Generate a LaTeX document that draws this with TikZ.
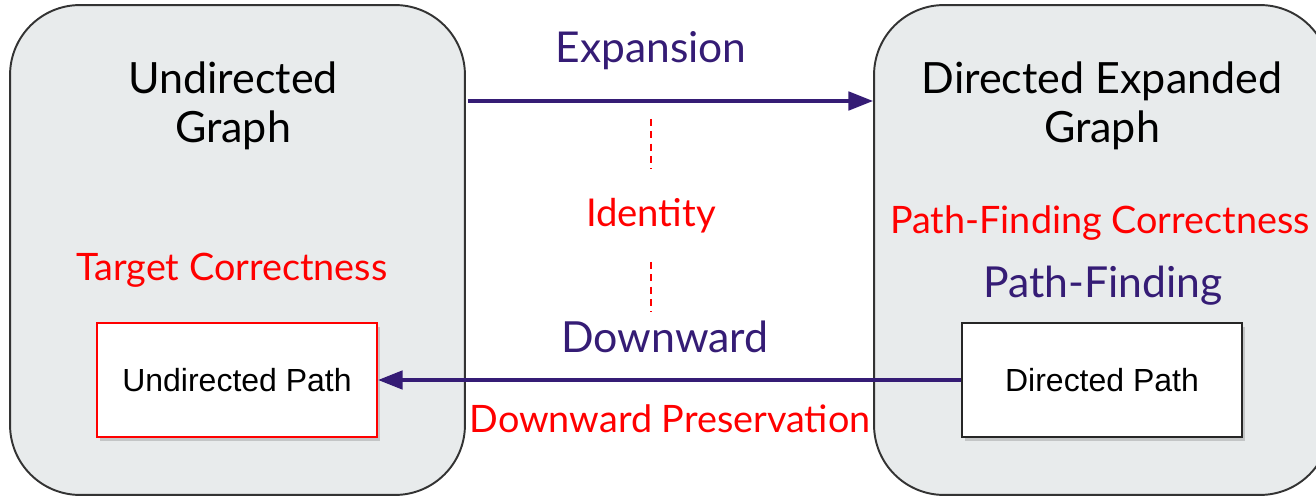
\documentclass[tikz,border=0pt]{standalone}
\usepackage{fontspec}
\setmainfont{Lato}
\newfontfamily\arialfont{Liberation Sans}
\usetikzlibrary{arrows.meta,shadows}
\definecolor{panelgray}{RGB}{232,235,236}
\definecolor{deeppurple}{RGB}{53,28,117}
\definecolor{rulered}{RGB}{255,0,0}
\begin{document}
\begin{tikzpicture}[x=0.02cm, y={(0,-0.02cm)},
  panel/.style={draw=black!80, line width=1.1pt, fill=panelgray,
    rounded corners=1.4cm, minimum width=9.1cm, minimum height=9.8cm, inner sep=0pt},
  pathbox/.style={fill=white, line width=1.2pt, minimum width=5.6cm, minimum height=2.28cm,
    inner sep=0pt, drop shadow={opacity=0.35, shadow xshift=1.5pt, shadow yshift=-2pt}},
  title/.style={font=\fontsize{24.5}{28.4}\selectfont, align=center, anchor=base},
  redlabel/.style={text=rulered, font=\fontsize{21.5}{25}\selectfont, anchor=base},
  purplelabel/.style={text=deeppurple, anchor=base},
  flow/.style={draw=deeppurple, line width=2pt, -{Triangle[length=14pt,width=10.5pt]}},
  link/.style={draw=rulered, line width=0.8pt, dash pattern=on 4pt off 3pt}
]
\useasboundingbox (0,0) rectangle (1316,496);
\clip (0,0) rectangle (1316,496);

% the two graph panels
\node[panel] (lbox) at (237.5,250) {};
\node[panel, minimum width=9.12cm] (rbox) at (1102,250) {};

% titles (anchored at the baseline of the second line)
\node[title] (ltitle) at (233,143) {Undirected\\Graph};
\node[title] (rtitle) at (1102,143) {Directed Expanded\\Graph};

% path boxes
\node[pathbox, draw=rulered] (upath) at (237,380) {};
\node[font=\arialfont\fontsize{18.2}{22}\selectfont, anchor=base] (utext) at (237,392) {Undirected Path};
\node[pathbox, draw=black!85] (dpath) at (1102,380) {};
\node[font=\arialfont\fontsize{18.2}{22}\selectfont, anchor=base] (dtext) at (1102,392) {Directed Path};

% labels
\node[redlabel] (target) at (232,281) {Target Correctness};
\node[redlabel] (pfcorr) at (1100,234) {Path-Finding Correctness};
\node[purplelabel, font=\fontsize{24.3}{28}\selectfont] (pf) at (1103,298) {Path-Finding};
\node[purplelabel, font=\fontsize{24.2}{28}\selectfont] (expansion) at (651,63) {Expansion};
\node[redlabel, font=\fontsize{21.8}{25}\selectfont] (identity) at (651,227) {Identity};
\node[purplelabel, font=\fontsize{24.4}{29}\selectfont] (downward) at (665,353) {Downward};
\node[redlabel] (preserve) at (670,433) {Downward Preservation};

% connectors
\coordinate (toprow) at (651,101);
\draw[flow] (lbox.east |- toprow) ++(2,0) -- (rbox.west |- toprow);
\draw[flow] (dpath.west) -- (upath.east);

\coordinate (d1a) at (651,119);
\coordinate (d1b) at (651,169);
\coordinate (d2a) at (651,262);
\coordinate (d2b) at (651,312);
\draw[link] (d1a) -- (d1b);
\draw[link] (d2a) -- (d2b);
\end{tikzpicture}
\end{document}
